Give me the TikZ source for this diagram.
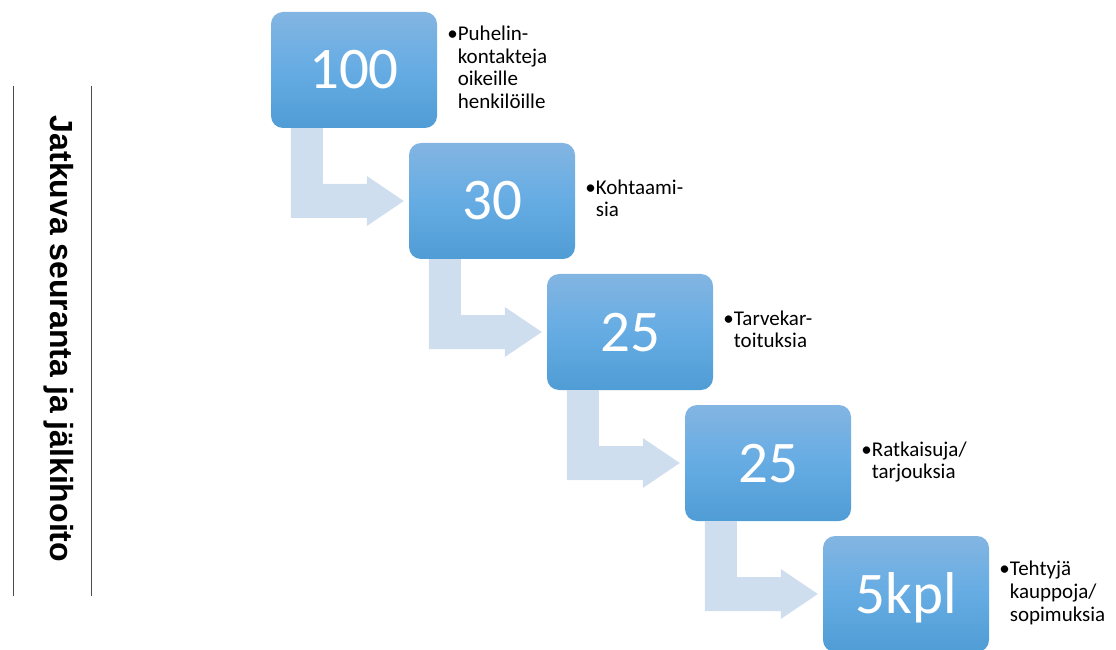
\documentclass[tikz,border=0pt]{standalone}
\usepackage{fontspec}
\setmainfont{Carlito}
\newfontfamily\titlefont{Liberation Sans}
\usetikzlibrary{calc,positioning}

\definecolor{boxtop}{RGB}{131,181,226}
\definecolor{boxmid}{RGB}{101,172,227}
\definecolor{boxbot}{RGB}{80,156,213}
\definecolor{flowblue}{RGB}{207,222,238}

\newcommand{\bullets}[1]{\textbullet\begin{tabular}[t]{@{}l@{}}#1\end{tabular}}

\begin{document}
\begin{tikzpicture}[
  x=1pt, y=1pt,
  stage/.style={rounded corners=12pt, minimum width=166pt, minimum height=116pt,
    inner sep=0pt, top color=boxtop, bottom color=boxbot, middle color=boxmid,
    text=white, font=\fontsize{59}{60}\selectfont, text height=38pt, text depth=0pt},
  note/.style={inner sep=0pt, font=\fontsize{21}{22.7}\selectfont},
  flow/.style={fill=flowblue},
  rule/.style={draw=black!70, line width=1pt},
  title/.style={font=\titlefont\bfseries\fontsize{32}{36}\selectfont}
]
\useasboundingbox (0,0) rectangle (1116,649);

% side title
\node[title, rotate=-90, anchor=base] (title) at (50,310) {Jatkuva seuranta ja jälkihoito};
\draw[rule] (13,563) -- (13,53);
\draw[rule] (91,563) -- (91,53);

% stages
\node[stage] (s1) at (354,579) {100};
\node[stage] (s2) at (492,448) {30};
\node[stage] (s3) at (630,317) {25};
\node[stage] (s4) at (768,186) {25};
\node[stage] (s5) at (906,55) {5kpl};

\node[note, right=10pt of s1] (n1) {\bullets{Puhelin-\\kontakteja\\oikeille\\henkilöille}};
\node[note, right=10pt of s2] (n2) {\bullets{Kohtaami-\\sia}};
\node[note, right=10pt of s3] (n3) {\bullets{Tarvekar-\\toituksia}};
\node[note, right=10pt of s4] (n4) {\bullets{Ratkaisuja/\\tarjouksia}};
\node[note, right=10pt of s5] (n5) {\bullets{Tehtyjä\\kauppoja/\\sopimuksia}};

% bent arrows
\foreach \i [evaluate=\i as \j using int(\i+1)] in {1,...,4}
  \fill[flow] ($(s\i.south west)+(20,0)$) -- ($(s\i.south west)+(52,0)$)
    |- ($(s\j.west)+(-42,17)$) -- ++(0,8) -- ($(s\j.west)+(-5,0)$)
    -- ($(s\j.west)+(-42,-25)$) -- ++(0,8) -| ($(s\i.south west)+(20,0)$) -- cycle;
\end{tikzpicture}
\end{document}
